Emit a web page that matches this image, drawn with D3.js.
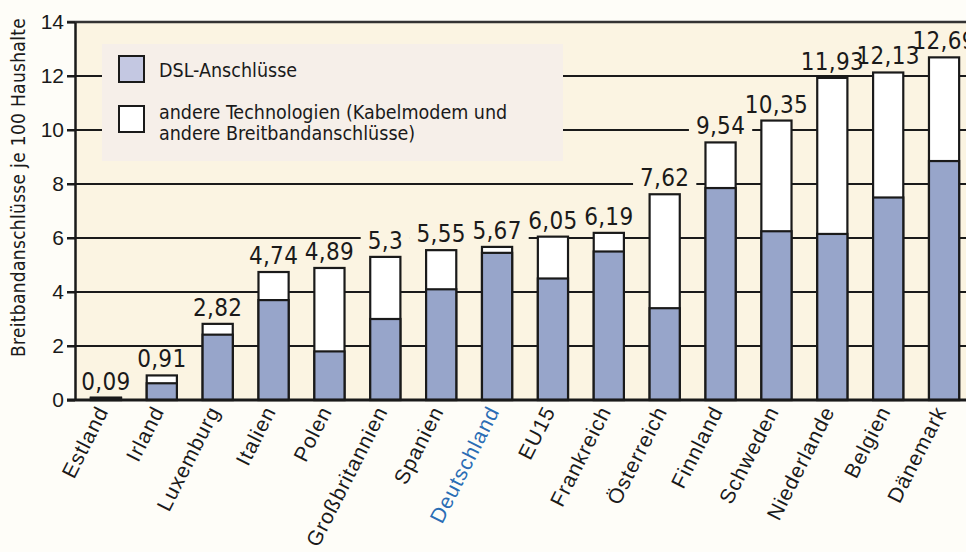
<!DOCTYPE html>
<html>
<head>
<meta charset="utf-8">
<script src="https://cdn.jsdelivr.net/npm/d3@7"></script>
<style>
  html, body { margin: 0; padding: 0; background: #fefdf8; }
  svg { display: block; font-family: "DejaVu Sans Condensed", "DejaVu Sans", sans-serif; font-stretch: condensed; }
</style>
</head>
<body>
<div id="chart"></div>
<script>
const countries = ["Estland", "Irland", "Luxemburg", "Italien", "Polen", "Großbritannien", "Spanien",
  "Deutschland", "EU15", "Frankreich", "Österreich", "Finnland", "Schweden", "Niederlande", "Belgien", "Dänemark"];
const totals = [0.09, 0.91, 2.82, 4.74, 4.89, 5.3, 5.55, 5.67, 6.05, 6.19, 7.62, 9.54, 10.35, 11.93, 12.13, 12.69];
const dsl = [0.07, 0.62, 2.42, 3.7, 1.8, 3.0, 4.1, 5.45, 4.5, 5.5, 3.4, 7.85, 6.25, 6.15, 7.5, 8.85];
const totalLabels = ["0,09", "0,91", "2,82", "4,74", "4,89", "5,3", "5,55", "5,67", "6,05", "6,19", "7,62", "9,54", "10,35", "11,93", "12,13", "12,69"];
const yTicks = [0, 2, 4, 6, 8, 10, 12, 14];
const legendItems = [
  { lines: ["DSL-Anschlüsse"], fill: "#c4c8e2" },
  { lines: ["andere Technologien (Kabelmodem und", "andere Breitbandanschlüsse)"], fill: "#ffffff" }
];
const highlight = "Deutschland";

const width = 966, height = 552;
const plotBg = "#fbf4e2";
const ink = "#1a1a1a";

const svg = d3.select("#chart").append("svg")
  .attr("width", width)
  .attr("height", height);

const x = d3.scaleBand()
  .domain(countries)
  .range([78, 972])
  .paddingInner(0.46)
  .paddingOuter(0.23);

const y = d3.scaleLinear()
  .domain([0, 14])
  .range([400, 22]);

const axisX = 75;

// plot background
svg.append("rect")
  .attr("x", axisX).attr("y", y(14))
  .attr("width", width - axisX).attr("height", y(0) - y(14))
  .attr("fill", plotBg);

// grid lines
svg.append("g")
  .selectAll("line")
  .data(yTicks.filter(d => d > 0 && d < 14))
  .join("line")
  .attr("x1", axisX - 8).attr("x2", width)
  .attr("y1", d => y(d)).attr("y2", d => y(d))
  .attr("stroke", ink).attr("stroke-width", 2);

svg.append("line")
  .attr("x1", axisX - 8).attr("x2", width)
  .attr("y1", y(14)).attr("y2", y(14))
  .attr("stroke", "#333").attr("stroke-width", 2.5);

// legend box (covers grid)
svg.append("rect")
  .attr("x", 102).attr("y", 44)
  .attr("width", 461).attr("height", 117)
  .attr("fill", "#f6efe9");

const legend = svg.append("g");
legendItems.forEach((item, i) => {
  const top = 56 + i * 50;
  legend.append("rect")
    .attr("x", 119).attr("y", top)
    .attr("width", 25).attr("height", 26)
    .attr("fill", item.fill)
    .attr("stroke", ink).attr("stroke-width", 2);
  item.lines.forEach((ln, j) => {
    legend.append("text")
      .attr("x", 159)
      .attr("y", item.lines.length === 1 ? top + 21 : top + 13 + j * 21)
      .attr("font-size", 19.5)
      .attr("fill", ink)
      .text(ln);
  });
});

// value labels, with a background that hides the grid behind them
const labelG = svg.append("g");
const labels = labelG.selectAll("text")
  .data(countries)
  .join("text")
  .attr("x", d => x(d) + x.bandwidth() / 2)
  .attr("y", (d, i) => y(totals[i]) - 8)
  .attr("text-anchor", "middle")
  .attr("font-size", 24)
  .attr("letter-spacing", 0.3)
  .attr("fill", ink)
  .text((d, i) => totalLabels[i]);

labels.each(function () {
  const b = this.getBBox();
  labelG.insert("rect", "text")
    .attr("x", b.x - 7).attr("y", b.y + 3)
    .attr("width", b.width + 14).attr("height", b.height - 4)
    .attr("fill", plotBg);
});

// bars
const bars = svg.append("g");
bars.selectAll("rect.other")
  .data(countries)
  .join("rect")
  .attr("class", "other")
  .attr("x", d => x(d))
  .attr("y", (d, i) => y(totals[i]))
  .attr("width", x.bandwidth())
  .attr("height", (d, i) => y(0) - y(totals[i]))
  .attr("fill", "#ffffff")
  .attr("stroke", ink).attr("stroke-width", 2.2);

bars.selectAll("rect.dsl")
  .data(countries)
  .join("rect")
  .attr("class", "dsl")
  .attr("x", d => x(d))
  .attr("y", (d, i) => y(dsl[i]))
  .attr("width", x.bandwidth())
  .attr("height", (d, i) => y(0) - y(dsl[i]))
  .attr("fill", "#97a5ca")
  .attr("stroke", ink).attr("stroke-width", 2.2);

// y axis
const yAxis = svg.append("g")
  .attr("transform", `translate(${axisX},0)`)
  .call(d3.axisLeft(y).tickValues(yTicks).tickSize(8).tickSizeOuter(0));
yAxis.select(".domain").attr("stroke", ink).attr("stroke-width", 2.5);
yAxis.selectAll(".tick line").attr("stroke", ink).attr("stroke-width", 2);
yAxis.selectAll(".tick text")
  .attr("font-size", 21).attr("font-family", null).attr("fill", ink).attr("x", -11);

// baseline
svg.append("line")
  .attr("x1", axisX - 8).attr("x2", width)
  .attr("y1", y(0)).attr("y2", y(0))
  .attr("stroke", ink).attr("stroke-width", 3);

// x labels
const xAxis = svg.append("g")
  .attr("transform", `translate(0,${y(0)})`)
  .call(d3.axisBottom(x).tickSize(0));
xAxis.select(".domain").remove();
xAxis.selectAll(".tick text")
  .attr("font-size", 21).attr("font-family", null)
  .attr("letter-spacing", 1)
  .attr("fill", d => d === highlight ? "#2a6db5" : ink)
  .attr("text-anchor", "end")
  .attr("y", 0).attr("dy", 0)
  .attr("transform", "translate(3,11) rotate(-63)");

// y title
svg.append("text")
  .attr("transform", "translate(25,357) rotate(-90)")
  .attr("font-size", 19)
  .attr("letter-spacing", 0.3)
  .attr("fill", ink)
  .text("Breitbandanschlüsse je 100 Haushalte");
</script>
</body>
</html>
